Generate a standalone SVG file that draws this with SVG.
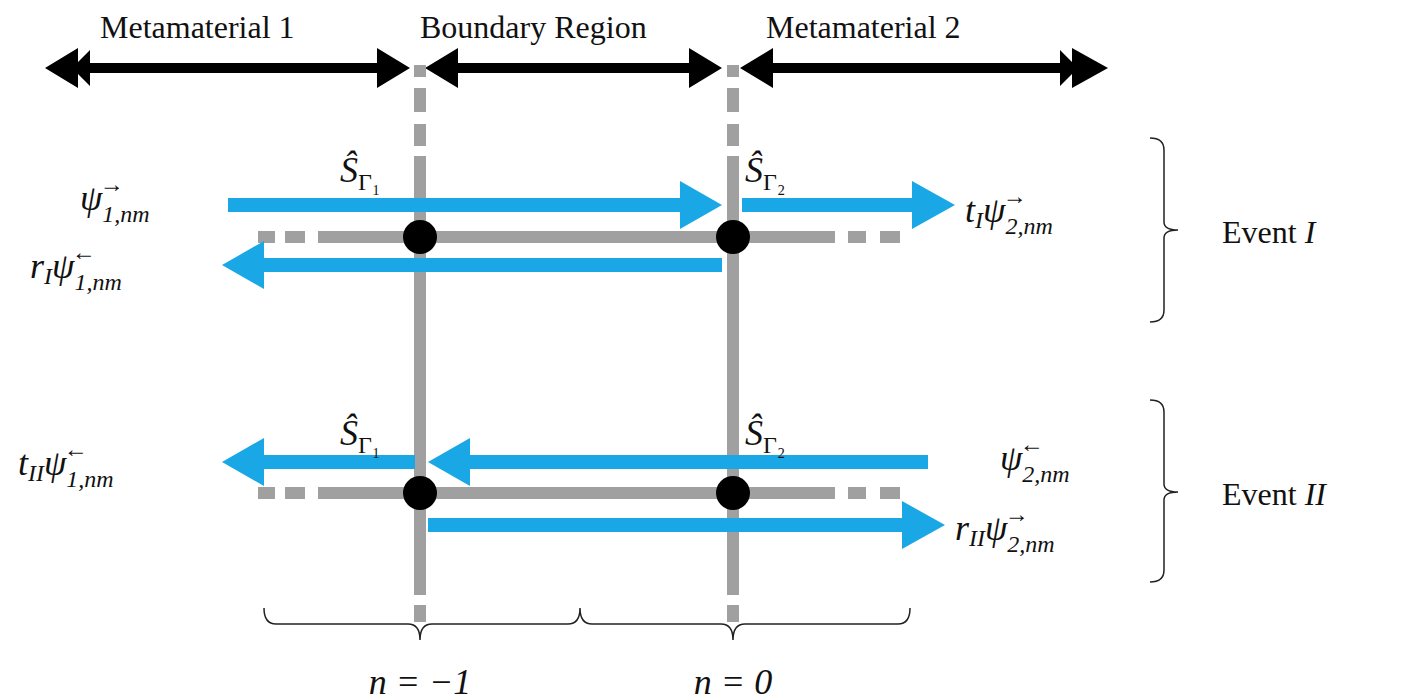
<svg xmlns="http://www.w3.org/2000/svg" width="1416" height="700" viewBox="0 0 1416 700">
<style>
.t{font-family:"Liberation Serif","DejaVu Serif",serif;font-size:32px;fill:#111}
.m{font-family:"Liberation Serif","DejaVu Serif",serif;font-style:italic;font-size:36px;fill:#111}
.s{font-size:24px}
.g{stroke:#a0a0a0;stroke-width:12;fill:none}
.b{fill:#1aa7e6}
.k{fill:#000}
.br{stroke:#222;stroke-width:1.5;fill:none}
</style>
<rect width="1416" height="700" fill="#fff"/>
<g id="titles">
<text class="t" x="100" y="38">Metamaterial 1</text>
<text class="t" x="420" y="38">Boundary Region</text>
<text class="t" x="766" y="38">Metamaterial 2</text>
</g>
<g id="connectors">
<!-- black double arrows -->
<path class="k" d="M45,68 L78,48 L78,62 L90,50 L90,63 L377,63 L377,48 L410,68 L377,88 L377,73 L90,73 L90,86 L78,74 L78,88 Z"/>
<path class="k" d="M425,68 L458,48 L458,63 L689,63 L689,48 L722,68 L689,88 L689,73 L458,73 L458,88 Z"/>
<path class="k" d="M740,68 L773,48 L773,63 L1060,63 L1060,50 L1072,62 L1072,48 L1108,68 L1072,88 L1072,74 L1060,86 L1060,73 L773,73 L773,88 Z"/>
<!-- vertical gray lines -->
<g class="g">
<path d="M420,65V77M420,88V112M420,124V146M420,156V595M420,605V622"/>
<path d="M733,65V77M733,88V112M733,124V146M733,156V595M733,605V622"/>
<path d="M258,237H275M285,237H305M318,237H835M848,237H866M880,237H900"/>
<path d="M258,493H275M285,493H305M318,493H835M848,493H866M880,493H900"/>
</g>
<!-- blue arrows -->
<path class="b" d="M228,198H680V181L722,205L680,229V212H228Z"/>
<path class="b" d="M742,198H912V181L955,205L912,229V212H742Z"/>
<path class="b" d="M722,258H264V241L222,265L264,289V272H722Z"/>
<path class="b" d="M415,455H264V438L222,462L264,486V469H415Z"/>
<path class="b" d="M928,455H470V438L428,462L470,486V469H928Z"/>
<path class="b" d="M428,518H902V501L945,525L902,549V532H428Z"/>
</g>
<g id="nodes">
<circle cx="420" cy="237" r="17"/>
<circle cx="733" cy="237" r="17"/>
<circle cx="420" cy="493" r="17"/>
<circle cx="733" cy="493" r="17"/>
</g>
<g id="labels">
<text class="m" x="340" y="182">Ŝ<tspan class="s" font-style="normal" dy="8">Γ₁</tspan></text>
<text class="m" x="745" y="182">Ŝ<tspan class="s" font-style="normal" dy="8">Γ₂</tspan></text>
<text class="m" x="340" y="445">Ŝ<tspan class="s" font-style="normal" dy="8">Γ₁</tspan></text>
<text class="m" x="745" y="445">Ŝ<tspan class="s" font-style="normal" dy="8">Γ₂</tspan></text>
<text class="m" x="80" y="210">ψ<tspan class="s" dy="12">1,nm</tspan><tspan class="s" font-style="normal" dx="-50" dy="-30">→</tspan></text>
<text class="m" x="30" y="278">r<tspan class="s" dy="6">I</tspan><tspan dy="-6">ψ</tspan><tspan class="s" dy="12">1,nm</tspan><tspan class="s" font-style="normal" dx="-50" dy="-30">←</tspan></text>
<text class="m" x="965" y="222">t<tspan class="s" dy="6">I</tspan><tspan dy="-6">ψ</tspan><tspan class="s" dy="12">2,nm</tspan><tspan class="s" font-style="normal" dx="-50" dy="-30">→</tspan></text>
<text class="m" x="18" y="475">t<tspan class="s" dy="6">II</tspan><tspan dy="-6">ψ</tspan><tspan class="s" dy="12">1,nm</tspan><tspan class="s" font-style="normal" dx="-50" dy="-30">←</tspan></text>
<text class="m" x="1000" y="470">ψ<tspan class="s" dy="12">2,nm</tspan><tspan class="s" font-style="normal" dx="-50" dy="-30">←</tspan></text>
<text class="m" x="955" y="540">r<tspan class="s" dy="6">II</tspan><tspan dy="-6">ψ</tspan><tspan class="s" dy="12">2,nm</tspan><tspan class="s" font-style="normal" dx="-50" dy="-30">→</tspan></text>
<text class="t" x="1222" y="243">Event <tspan font-style="italic">I</tspan></text>
<text class="t" x="1222" y="505">Event <tspan font-style="italic">II</tspan></text>
<text class="m" x="420" y="694" text-anchor="middle" font-style="normal"><tspan font-style="italic">n</tspan> = −1</text>
<text class="m" x="733" y="694" text-anchor="middle" font-style="normal"><tspan font-style="italic">n</tspan> = 0</text>
</g>
<g id="braces">
<path class="br" d="M1150,138Q1164,138 1164,150V222Q1164,230 1178,230Q1164,230 1164,238V310Q1164,322 1150,322"/>
<path class="br" d="M1150,400Q1164,400 1164,412V484Q1164,492 1178,492Q1164,492 1164,500V570Q1164,582 1150,582"/>
<path class="br" d="M264,608Q264,624 276,624H408Q420,624 420,640Q420,624 432,624H568Q580,624 580,608Q580,624 592,624H721Q733,624 733,640Q733,624 745,624H898Q910,624 910,608"/>
</g>
</svg>
